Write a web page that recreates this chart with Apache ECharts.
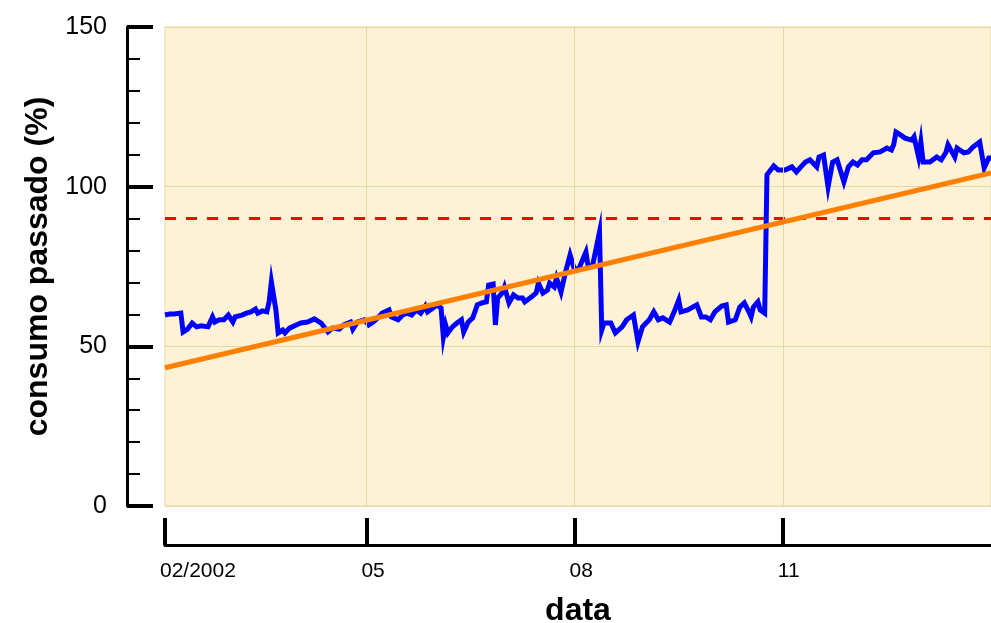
<!DOCTYPE html>
<html>
<head>
<meta charset="utf-8">
<script src="https://cdn.jsdelivr.net/npm/echarts@6/dist/echarts.min.js"></script>
<style>html,body{margin:0;padding:0;background:#fff}#c{width:991px;height:623px}</style>
</head>
<body>
<div id="c"></div>
<script>
const dates = ['2002-02-01','2002-02-03','2002-02-05','2002-02-08','2002-02-09','2002-02-11','2002-02-13','2002-02-15','2002-02-17','2002-02-20',
'2002-02-22','2002-02-23','2002-02-25','2002-02-27','2002-03-01','2002-03-03','2002-03-04','2002-03-07','2002-03-09','2002-03-11',
'2002-03-13','2002-03-14','2002-03-16','2002-03-18','2002-03-19','2002-03-20','2002-03-22','2002-03-23','2002-03-25','2002-03-26',
'2002-03-28','2002-03-31','2002-04-02','2002-04-05','2002-04-08','2002-04-11','2002-04-14','2002-04-16','2002-04-19','2002-04-21',
'2002-04-24','2002-04-25','2002-04-27','2002-04-30','2002-05-02','2002-05-04','2002-05-06','2002-05-08','2002-05-11','2002-05-12',
'2002-05-15','2002-05-17','2002-05-19','2002-05-21','2002-05-23','2002-05-25','2002-05-27','2002-05-28','2002-05-31','2002-06-01',
'2002-06-03','2002-06-04','2002-06-05','2002-06-06','2002-06-08','2002-06-10','2002-06-12','2002-06-13','2002-06-15','2002-06-17',
'2002-06-19','2002-06-21','2002-06-23','2002-06-24','2002-06-26','2002-06-27','2002-06-28','2002-06-30','2002-07-01','2002-07-03',
'2002-07-05','2002-07-07','2002-07-09','2002-07-10','2002-07-13','2002-07-15','2002-07-16','2002-07-18','2002-07-20','2002-07-21',
'2002-07-23','2002-07-24','2002-07-26','2002-07-28','2002-07-30','2002-08-01','2002-08-03','2002-08-06','2002-08-07','2002-08-09',
'2002-08-12','2002-08-13','2002-08-14','2002-08-17','2002-08-19','2002-08-22','2002-08-24','2002-08-27','2002-08-29','2002-08-31',
'2002-09-03','2002-09-05','2002-09-07','2002-09-09','2002-09-12','2002-09-14','2002-09-16','2002-09-17','2002-09-20','2002-09-24',
'2002-09-26','2002-09-28','2002-09-30','2002-10-02','2002-10-05','2002-10-07','2002-10-08','2002-10-11','2002-10-13','2002-10-15',
'2002-10-17','2002-10-18','2002-10-19','2002-10-21','2002-10-22','2002-10-24','2002-10-25','2002-10-28','2002-10-30','2002-11-02',
'2002-11-05','2002-11-07','2002-11-09','2002-11-11','2002-11-13','2002-11-16','2002-11-17','2002-11-19','2002-11-21','2002-11-23',
'2002-11-25','2002-11-28','2002-11-30','2002-12-02','2002-12-04','2002-12-06','2002-12-08','2002-12-11','2002-12-14','2002-12-17',
'2002-12-19','2002-12-20','2002-12-21','2002-12-23','2002-12-25','2002-12-28','2002-12-29','2002-12-31','2003-01-01','2003-01-02',
'2003-01-05','2003-01-08','2003-01-10','2003-01-12','2003-01-13','2003-01-16','2003-01-17','2003-01-20','2003-01-22','2003-01-24',
'2003-01-27','2003-01-29','2003-01-31','2003-02-01'];
const consumo = [59.8,60.1,60.1,60.4,54.5,55.4,57.3,56.1,56.4,56.1,
59.2,57.6,58.3,58.3,59.8,57.6,59.2,59.8,60.4,60.8,
61.7,60.4,61.1,60.8,63.9,70.2,61.4,54.2,55.1,54.2,
55.7,56.7,57.3,57.6,58.6,57.3,54.5,55.7,55.4,56.7,
57.6,55.4,57.6,58.3,56.7,57.6,58.9,60.4,61.4,59.2,
58.3,59.8,60.4,59.8,61.4,60.4,62.6,60.8,62.3,63.0,
62.0,52.9,56.7,54.2,56.1,57.3,58.3,54.5,57.6,58.9,
63.0,63.6,63.9,69.2,69.5,56.7,65.1,66.7,68.6,63.6,
66.1,65.1,65.1,63.9,65.5,66.7,69.8,66.7,67.6,69.8,
68.6,71.4,67.0,73.3,78.6,73.9,74.5,79.5,74.9,75.5,
85.8,55.1,57.3,57.3,54.2,56.1,58.3,59.8,51.4,56.1,
58.3,60.8,58.3,58.9,57.6,60.8,64.5,60.8,61.4,63.0,
59.2,59.2,58.3,60.8,62.6,63.0,57.6,58.3,62.3,63.6,
60.8,59.2,62.3,63.9,61.4,60.4,103.7,106.5,105.2,105.2,
106.2,104.6,106.2,107.7,108.4,106.2,109.3,109.9,99.9,107.7,
108.4,101.5,106.2,107.7,106.8,108.4,108.4,110.6,110.9,112.1,
111.5,113.1,117.1,116.2,115.2,114.6,115.6,109.3,114.0,107.7,
107.7,109.3,108.4,110.6,113.1,109.3,112.1,110.6,110.9,112.4,
114.0,105.9,109.0,109.0];
const trendDates = ['2002-02-01','2003-02-01'];
const trendValues = [43.3, 104.3];
const limitDates = ['2002-02-01','2003-02-01'];
const limitValues = [90, 90];
const tickDates = ['2002-02-01','2002-05-01','2002-08-01','2002-11-01'];
const tickLabels = ['02/2002','05','08','11'];

const ts = d => { const p = d.split('-').map(Number); return Date.UTC(p[0], p[1]-1, p[2]); };
const tickTs = tickDates.map(ts);
const labelMap = {}; tickTs.forEach((t,i)=>labelMap[t]=tickLabels[i]);
const font = "'Liberation Sans', Arial, sans-serif";
const gridColor = '#e6d9a2';

const chart = echarts.init(document.getElementById('c'), null, {renderer:'canvas'});
chart.setOption({
  animation: false,
  backgroundColor: '#ffffff',
  grid: {left:165, right:0, top:27, bottom:117, outerBoundsMode:'none', containLabel:false,
         show:true, backgroundColor:'#fdf2d6', borderColor:gridColor, borderWidth:1},
  xAxis: {
    type:'value', min: ts('2002-02-01'), max: ts('2003-02-01'),
    offset: 39,
    name:'data', nameLocation:'middle', nameGap:50,
    nameTextStyle:{fontFamily:font, fontSize:32, fontWeight:'bold', color:'#000'},
    axisLine:{show:true, onZero:false, lineStyle:{color:'#000', width:3}},
    axisTick:{show:true, inside:true, length:27, customValues: tickTs, lineStyle:{color:'#000', width:4}},
    axisLabel:{customValues: tickTs, formatter: v => labelMap[v] || '', fontFamily:font, fontSize:21, color:'#000', margin:16, align:'left', padding:[0,0,0,-5]},
    splitLine:{show:false}
  },
  yAxis: {
    type:'value', min:0, max:150, interval:50,
    offset: 38,
    name:'consumo passado (%)', nameLocation:'middle', nameGap:72,
    nameTextStyle:{fontFamily:font, fontSize:32, fontWeight:'bold', color:'#000'},
    axisLine:{show:true, lineStyle:{color:'#000', width:3}},
    axisTick:{show:true, inside:true, length:26, lineStyle:{color:'#000', width:4}},
    minorTick:{show:true, splitNumber:5, length:13, lineStyle:{color:'#000', width:2}},
    axisLabel:{fontFamily:font, fontSize:25, color:'#000', margin:20},
    splitLine:{show:true, lineStyle:{color:gridColor, width:1}}
  },
  series: [
    {type:'line', data:[], silent:true, z:1,
     markLine:{silent:true, symbol:'none', label:{show:false}, lineStyle:{color:gridColor, width:1, type:'solid'},
       data: tickTs.slice(1).map(t=>({xAxis:t}))}},
    {type:'line', name:'limite', data: limitDates.map((d,i)=>[ts(d), limitValues[i]]), showSymbol:false, symbol:'none',
     lineStyle:{color:'#ff0000', width:3, type:[11,10]}, z:3},
    {type:'line', name:'consumo', data: dates.map((d,i)=>[ts(d), consumo[i]]), showSymbol:false, symbol:'none',
     lineStyle:{color:'#0000ff', width:5, join:'miter'}, z:4},
    {type:'line', name:'tendencia', data: trendDates.map((d,i)=>[ts(d), trendValues[i]]), showSymbol:false, symbol:'none',
     lineStyle:{color:'#ff8000', width:5}, z:5}
  ]
});
</script>
</body>
</html>
